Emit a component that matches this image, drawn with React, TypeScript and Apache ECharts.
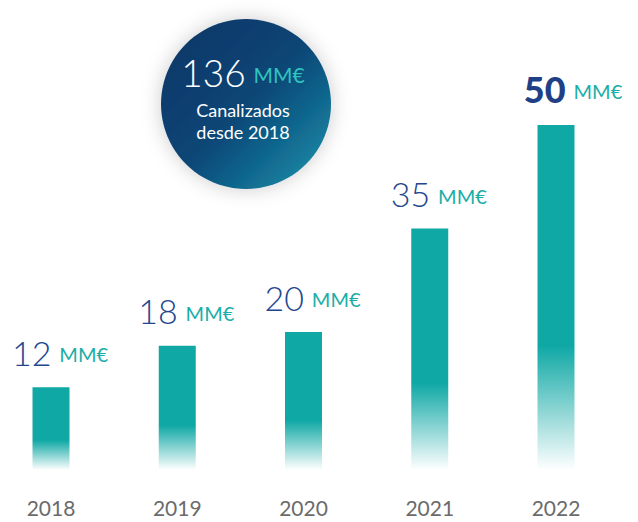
import React, { useEffect, useRef } from "react";
import * as echarts from "echarts";

const years = ["2018", "2019", "2020", "2021", "2022"];
const values = [12, 18, 20, 35, 50];
const totalValue = "136";
const unit = "MM€";
const circleLines = ["Canalizados", "desde 2018"];

export default function App() {
  const ref = useRef<HTMLDivElement>(null);
  useEffect(() => {
    document.body.style.margin = "0";
    const chart = echarts.init(ref.current!, null, { renderer: "svg" });
    const barGrad = new echarts.graphic.LinearGradient(0, 0, 0, 1, [
      { offset: 0, color: "#0fa8a5" },
      { offset: 0.64, color: "#0fa8a5" },
      { offset: 1, color: "rgba(15,168,165,0)" },
    ]);
    chart.setOption({
      animation: false,
      grid: { left: 51, right: 82, top: 56, bottom: 52 },
      xAxis: {
        type: "category",
        data: years,
        boundaryGap: false,
        axisLine: { show: false },
        axisTick: { show: false },
        axisLabel: {
          color: "#6b6b6b",
          fontSize: 21,
          fontFamily: "Lato",
          margin: 27,
        },
      },
      yAxis: {
        type: "value",
        min: 0,
        max: 60,
        show: false,
        splitLine: { show: false },
      },
      series: [
        {
          type: "bar",
          barWidth: 37,
          data: values.map((v, i) => ({
            value: v,
            label: {
              offset: [i === 4 ? 17 : 9, 0],
              formatter: i === 4 ? `{b|${v}}{u|${unit}}` : `{n|${v}}{u|${unit}}`,
            },
          })),
          itemStyle: { color: barGrad },
          label: {
            show: true,
            position: "top",
            distance: 18,
            rich: {
              n: { fontSize: 34, color: "#23468f", fontFamily: "Lato", fontWeight: 300 },
              b: { fontSize: 36, color: "#1f3f86", fontFamily: "Lato", fontWeight: 900 },
              u: { fontSize: 20, color: "#1aaea8", fontFamily: "Lato", fontWeight: 400, padding: [4, 0, 0, 8] },
            },
          },
        },
      ],
      graphic: [
        {
          type: "circle",
          shape: { cx: 246, cy: 104, r: 85 },
          style: {
            fill: new echarts.graphic.LinearGradient(0, 0, 1, 1, [
              { offset: 0, color: "#0a3466" },
              { offset: 0.5, color: "#0b4676" },
              { offset: 0.82, color: "#14789a" },
              { offset: 1, color: "#24a9b2" },
            ]),
            shadowBlur: 20,
            shadowColor: "rgba(0,0,0,0.2)",
          },
        },
        {
          type: "text",
          x: 243,
          y: 72,
          style: {
            text: `{n|${totalValue}}{u|${unit}}`,
            align: "center",
            verticalAlign: "middle",
            rich: {
              n: { fontSize: 37, fill: "#ffffff", fontFamily: "Lato", fontWeight: 300 },
              u: { fontSize: 21, fill: "#2fc3c0", fontFamily: "Lato", padding: [5, 0, 0, 8] },
            },
          },
        },
        {
          type: "text",
          x: 243,
          y: 121,
          style: {
            text: circleLines.join("\n"),
            align: "center",
            verticalAlign: "middle",
            fontSize: 18,
            lineHeight: 22,
            fill: "#ffffff",
            fontFamily: "Lato",
          },
        },
      ],
    });
    return () => chart.dispose();
  }, []);
  return <div ref={ref} style={{ width: 638, height: 522 }} />;
}
